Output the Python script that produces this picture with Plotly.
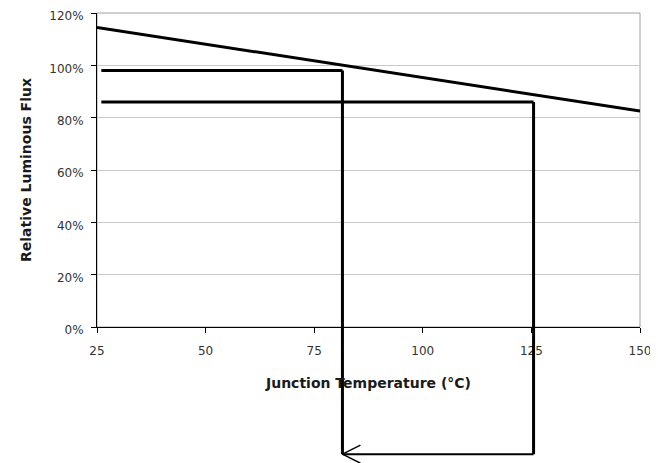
import plotly.graph_objects as go

# derating curve
temp = [25, 150]
flux = [114.5, 82.5]

# operating points
op_temp = [81.5, 125.5]
op_flux = [98, 86]
guide_start = 26
guide_bottom = -0.405  # paper coords, below the x axis

x_ticks = [25, 50, 75, 100, 125, 150]
y_ticks = [0, 20, 40, 60, 80, 100, 120]
y_labels = ['0%', '20%', '40%', '60%', '80%', '100%', '120%']

fig = go.Figure()
fig.add_trace(go.Scatter(
    x=temp, y=flux, mode='lines',
    line=dict(color='black', width=3),
    showlegend=False, hoverinfo='skip'
))

shapes = [
    # plot area border
    dict(type='rect', xref='paper', yref='paper', x0=0, x1=1, y0=0, y1=1,
         line=dict(color='#a0a0a0', width=1), layer='below'),
]
for t, f in zip(op_temp, op_flux):
    shapes.append(dict(type='line', xref='x', yref='y', x0=guide_start, x1=t, y0=f, y1=f,
                       line=dict(color='black', width=3)))
    shapes.append(dict(type='line', xref='x', yref='paper', x0=t, x1=t, y0=f / 120, y1=guide_bottom,
                       line=dict(color='black', width=3)))

# bottom return line with an open arrow head at the first operating point
shapes.append(dict(type='line', xref='x', yref='paper', x0=op_temp[1], x1=op_temp[0],
                   y0=guide_bottom, y1=guide_bottom, line=dict(color='black', width=2)))
for dy in (9, -9):
    shapes.append(dict(type='line', xref='x', yref='paper', xsizemode='pixel', ysizemode='pixel',
                       xanchor=op_temp[0], yanchor=guide_bottom, x0=0, y0=0, x1=18, y1=dy,
                       line=dict(color='black', width=1.5)))

# the page body adds 8px around the figure, so the figure is 8px smaller
fig.update_layout(
    width=650, height=455,
    margin=dict(l=89, r=18, t=5, b=136),
    paper_bgcolor='white', plot_bgcolor='white',
    font=dict(family='DejaVu Sans', size=12, color='#333333'),
    shapes=shapes,
    xaxis=dict(
        range=[25, 150], tickvals=x_ticks, showgrid=False, zeroline=False,
        showline=True, linecolor='black', linewidth=1, automargin=False,
        ticks='outside', ticklen=5, tickcolor='black', ticklabelstandoff=8,
        ticklabeloverflow='allow',
        title=dict(text='<b>Junction Temperature (°C)</b>', standoff=20,
                   font=dict(size=14, color='#1a1a1a'))
    ),
    yaxis=dict(
        range=[0, 120], tickvals=y_ticks, ticktext=y_labels,
        showgrid=True, gridcolor='#c8c8c8', gridwidth=1, zeroline=False,
        showline=True, linecolor='black', linewidth=1, automargin=False,
        ticks='outside', ticklen=5, tickcolor='black', ticklabelstandoff=5,
        ticklabelshift=3, ticklabeloverflow='allow',
        title=dict(text='<b>Relative Luminous Flux</b>', standoff=14,
                   font=dict(size=14, color='#1a1a1a'))
    ),
)

fig.write_html("out.html")
